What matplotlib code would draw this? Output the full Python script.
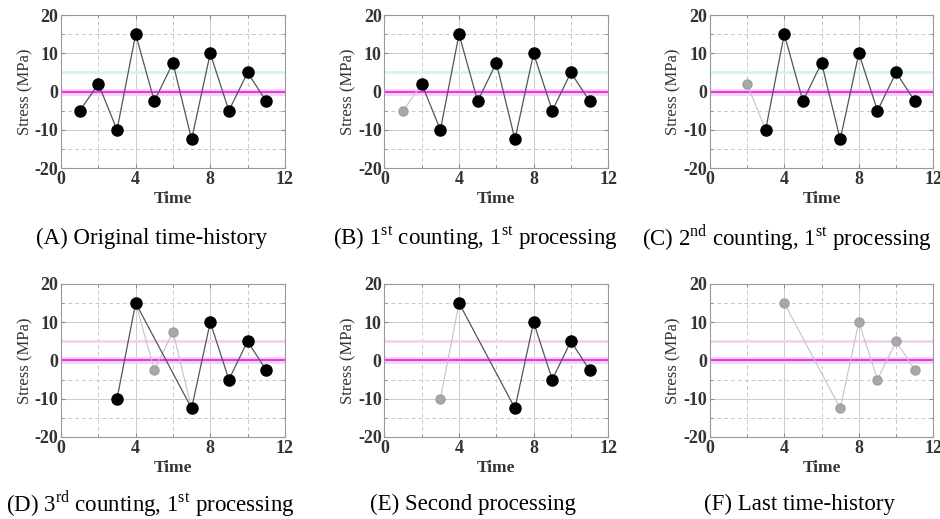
import numpy as np
import matplotlib.pyplot as plt
from matplotlib.ticker import MultipleLocator

plt.rcParams['font.family'] = ['Liberation Serif', 'DejaVu Serif']
plt.rcParams['mathtext.fontset'] = 'custom'
plt.rcParams['mathtext.rm'] = 'Liberation Serif'
plt.rcParams['axes.unicode_minus'] = False

time = [1, 2, 3, 4, 5, 6, 7, 8, 9, 10, 11]
stress = [-5, 2, -10, 15, -2.5, 7.5, -12.5, 10, -5, 5, -2.5]

# per panel: black points, grey (removed) points, dark path, light path
captions = [
    "(A) Original time-history",
    r"(B) 1$^{\mathrm{st}}$ counting, 1$^{\mathrm{st}}$ processing",
    r"(C) 2$^{\mathrm{nd}}$ counting, 1$^{\mathrm{st}}$ processing",
    r"(D) 3$^{\mathrm{rd}}$ counting, 1$^{\mathrm{st}}$ processing",
    "(E) Second processing",
    "(F) Last time-history",
]
black_pts = [
    list(range(11)),
    list(range(1, 11)),
    list(range(2, 11)),
    [2, 3, 6, 7, 8, 9, 10],
    [3, 6, 7, 8, 9, 10],
    [],
]
grey_pts = [
    [],
    [0],
    [1],
    [4, 5],
    [2],
    [3, 6, 7, 8, 9, 10],
]
dark_path = black_pts
light_path = [
    [],
    [0, 1],
    [1, 2],
    [3, 4, 5, 6],
    [2, 3],
    [3, 6, 7, 8, 9, 10],
]

fig = plt.figure(figsize=(9.4, 5.19), dpi=100)
lefts = [0.065, 0.409, 0.755]
bottoms = [0.676, 0.158]
w, h = 0.238, 0.295
cap_x = [152, 475, 787, 150, 473, 800]
cap_y = [238, 238, 238, 504, 504, 504]

for k in range(6):
    row, col = divmod(k, 3)
    ax = fig.add_axes([lefts[col], bottoms[row], w, h])
    ax.set_xlim(0, 12)
    ax.set_ylim(-20, 20)
    ax.xaxis.set_major_locator(MultipleLocator(4))
    ax.xaxis.set_minor_locator(MultipleLocator(2))
    ax.yaxis.set_major_locator(MultipleLocator(10))
    ax.yaxis.set_minor_locator(MultipleLocator(5))
    ax.grid(which='major', color='#cccccc', lw=0.7)
    ax.grid(which='minor', color='#c8c8c8', lw=0.7, ls=(0, (4, 3)))
    ax.tick_params(which='both', direction='in', top=True, right=True,
                   labelsize=13, pad=2, length=3, color='#888888')
    ax.tick_params(which='minor', length=2)
    for lab in ax.get_xticklabels() + ax.get_yticklabels():
        lab.set_fontweight('bold')
        lab.set_color('#333333')
    for s in ax.spines.values():
        s.set_color('#999999')
        s.set_linewidth(0.8)

    band = '#d4f2f0' if row == 0 else '#f5d0f2'
    ax.axhline(5, color=band, lw=2.0, zorder=2)
    ax.axhline(0, color='#f8d2f6', lw=5, zorder=2)
    ax.axhline(0, color='#e23de0', lw=1.5, zorder=2)

    lp = light_path[k]
    if lp:
        ax.plot([time[i] for i in lp], [stress[i] for i in lp],
                color='#c4c4c4', lw=0.8, zorder=3)
    dp = dark_path[k]
    if dp:
        ax.plot([time[i] for i in dp], [stress[i] for i in dp],
                color='#555555', lw=0.9, zorder=3)
    gp = grey_pts[k]
    if gp:
        ax.plot([time[i] for i in gp], [stress[i] for i in gp], 'o',
                color='#a8a8a8', ms=6.5, mec='#a0a0a0', zorder=4)
    bp = black_pts[k]
    if bp:
        ax.plot([time[i] for i in bp], [stress[i] for i in bp], 'o',
                color='black', ms=8, zorder=5)

    ax.set_xlabel("Time", fontsize=12.5, fontweight='bold', labelpad=2, color='#333333')
    ax.set_ylabel("Stress (MPa)", fontsize=12, labelpad=1, color='#333333')

    fig.text(cap_x[k] / 940, 1 - cap_y[k] / 519, captions[k],
             ha='center', va='center', fontsize=16.5)

fig.savefig("out.png", dpi=100)
